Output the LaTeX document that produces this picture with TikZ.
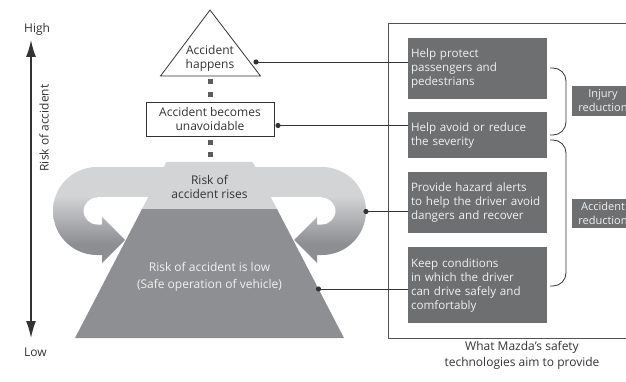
\documentclass[tikz,border=0pt]{standalone}
\usepackage{fontspec}
\setmainfont{Open Sans}
\usetikzlibrary{
  arrows.meta
}
\definecolor{bandlight}{HTML}{D3D4D6}
\definecolor{loopdark}{HTML}{8D8E91}
\definecolor{trapgray}{HTML}{8E8F92}
\definecolor{aimgray}{HTML}{6E6F71}
\definecolor{inkgray}{HTML}{333333}
\definecolor{paletext}{HTML}{F0F0F0}
\pgfdeclareverticalshading{loopshade}{100bp}{color(0bp)=(loopdark); color(35bp)=(loopdark); color(60bp)=(bandlight); color(100bp)=(bandlight)}

\begin{document}
\begin{tikzpicture}[
    x=1pt, y=-1pt, >={Latex[length=17pt,width=10pt]},
    font=\fontsize{12}{14}\selectfont,
    stage/.style={
      text=inkgray,
      align=center,
      inner sep=0pt
    },
    aimbox/.style={
      fill=aimgray,
      text=paletext,
      text width=133pt,
      inner xsep=3pt,
      inner ysep=0pt,
      align=left,
      font=\fontsize{11.6}{14}\selectfont
    },
    tagbox/.style={
      fill=aimgray,
      text=paletext,
      text width=56pt,
      inner xsep=3pt,
      inner ysep=0pt,
      align=center,
      minimum height=30pt,
      font=\fontsize{11}{14}\selectfont
    },
    link/.style={draw=inkgray, line width=0.9pt},
    dotlink/.style={draw=inkgray!80, line width=5pt, dash pattern=on 5pt off 7.5pt, dash phase=9pt},
    brace/.style={draw=inkgray, line width=0.8pt, rounded corners=13pt}
  ]
  \useasboundingbox (0,0) rectangle (626,382);
  \clip (0,0) rectangle (626,382);

  \begin{scope}
    \foreach \sx/\ox in {1/0,-1/419}{
      \begin{scope}[xshift=\ox pt, xscale=\sx]
        \shade[shading=loopshade] (97,167) arc[start angle=270, end angle=90, radius=44]
          -- (102,255) -- (102,263) -- (125,240) -- (102,217) -- (102,224.5) -- (97,224.5)
          arc[start angle=90, end angle=270, radius=13.5] -- cycle;
      \end{scope}
    }
    \fill[bandlight] (96,167) rectangle (323,197.5);
    \fill[bandlight] (166.4,162) -- (252.6,162) -- (277,209) -- (142,209) -- cycle;
    \fill[trapgray] (142,209) -- (277,209) -- (344,338) -- (75,338) -- cycle;

    \draw[inkgray, line width=0.8pt] (210,10) -- (260.5,76) -- (160.5,76) -- cycle;
    \coordinate (hapbase) at (210,76);
    \coordinate (plateau) at (210,162);

    \node[stage] (hap) at (210,58) {Accident\\happens};
    \node[stage, draw=inkgray, line width=0.8pt, minimum width=128pt, minimum height=34pt] (unav) at (210,119) {Accident becomes\\unavoidable};
    \node[stage] (rise) at (209.5,187) {Risk of\\accident rises};
    \node[stage, text=paletext] (low) at (209.5,277) {Risk of accident is low\\[3pt](Safe operation of vehicle)};

    \draw[dotlink] (hapbase) -- (unav.north);
    \draw[dotlink] (unav.south) -- (plateau);

    \coordinate (axtop) at (31,40);
    \coordinate (axbot) at (31,338);
    \draw[inkgray, line width=1.5pt, <->] (axtop) -- (axbot);
    \node[stage, anchor=west] (high) at (24,29) {High};
    \node[stage, anchor=west] (lowend) at (24,352) {Low};
    \node[stage, rotate=90] (risk) at (44,128) {Risk of accident};

    \draw[draw=inkgray!85, line width=0.7pt] (388,23) rectangle (660,338);

    \node[aimbox, minimum height=61pt] (p1) at (477.5,68.5) {Help protect\\passengers and\\pedestrians};
    \node[aimbox, minimum height=46pt] (p2) at (477.5,135) {Help avoid or reduce\\the severity};
    \node[aimbox, minimum height=61pt] (p3) at (477.5,202.5) {Provide hazard alerts\\to help the driver avoid\\dangers and recover};
    \node[aimbox, minimum height=76pt] (p4) at (477.5,285) {Keep conditions\\in which the driver\\can drive safely and\\comfortably};

    \coordinate (d1) at (256,62);
    \coordinate (d2) at (278,125.5);
    \coordinate (d3) at (366,211.5);
    \coordinate (d4) at (318.5,289);
    \foreach \d/\p in {d1/p1,d2/p2,d3/p3,d4/p4}{
      \fill[inkgray] (\d) circle (2.6pt);
      \draw[link] (\d) -- (\d -| \p.west);
    }

    \draw[brace] (550,68) -- (566,68) -- (566,135) -- (550,135);
    \draw[brace] (550,140) -- (566,140) -- (566,286) -- (550,286);
    \node[tagbox] (inj) at (603,101) {Injury\\reduction};
    \node[tagbox, minimum height=29pt] (acc) at (603,213.5) {Accident\\reduction};

    \node[stage] (cap) at (522,355) {What Mazda’s safety\\[2pt]technologies aim to provide};
  \end{scope}
\end{tikzpicture}
\end{document}
